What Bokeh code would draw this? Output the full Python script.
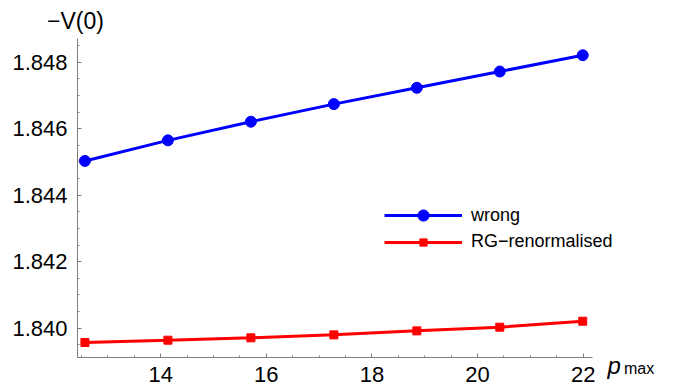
from bokeh.plotting import figure
from bokeh.models import (Range1d, FixedTicker, PrintfTickFormatter, Legend, LegendItem,
                          Label, ColumnDataSource)
from bokeh.embed import file_html
from bokeh.resources import INLINE

# data
p_max = [12.566, 14.137, 15.708, 17.279, 18.850, 20.420, 21.991]
wrong = [1.84503, 1.84565, 1.84621, 1.84674, 1.84723, 1.84772, 1.84821]
rg_renorm = [1.83957, 1.83964, 1.83971, 1.83980, 1.83992, 1.84003, 1.84021]

x_ticks = [14, 16, 18, 20, 22]
x_minor = [12.5 + 0.5 * i for i in range(20)]
y_ticks = [1.840, 1.842, 1.844, 1.846, 1.848]
y_minor = [1.8395 + 0.0005 * i for i in range(19)]

FONT = "Liberation Sans"
AX = "#7f7f7f"

# axis extents (data) and the whole-canvas frame around them
X0, X1 = 12.425, 22.17
Y0, Y1 = 1.839134, 1.848713
W, H = 684, 391
L, R, T, B = 77, 591.7, 38, 356.5
sx = (R - L) / (X1 - X0)
sy = (B - T) / (Y1 - Y0)
xs, xe = X0 - L / sx, X0 + (W - L) / sx
ye, ys = Y1 + T / sy, Y1 - (H - T) / sy


def dx(px):
    return xs + px / sx


def dy(py):
    return ye - py / sy


p = figure(width=W, height=H, output_backend="svg", toolbar_location=None,
           x_range=Range1d(xs, xe), y_range=Range1d(ys, ye),
           min_border=0, min_border_left=0, min_border_right=0,
           min_border_top=0, min_border_bottom=0)
p.outline_line_color = None
p.grid.visible = False
p.background_fill_color = "white"
p.border_fill_color = "white"

src = ColumnDataSource(dict(x=p_max, w=wrong, r=rg_renorm))
bl = p.line("x", "w", source=src, line_color="#0000ff", line_width=3)
bs = p.scatter("x", "w", source=src, marker="circle", size=11, fill_color="#0000ff", line_color="#0000ff")
rl = p.line("x", "r", source=src, line_color="#ff0000", line_width=3)
rs = p.scatter("x", "r", source=src, marker="square", size=8, fill_color="#ff0000", line_color="#ff0000")

for ax in (p.xaxis[0], p.yaxis[0]):
    ax.axis_line_color = AX
    ax.major_tick_line_color = AX
    ax.minor_tick_line_color = AX
    ax.major_tick_in = 4
    ax.major_tick_out = 0
    ax.minor_tick_in = 2
    ax.minor_tick_out = 0
    ax.major_label_text_font = FONT
    ax.major_label_text_font_size = "22px"
    ax.major_label_text_color = "black"
    ax.major_label_standoff = 10

p.xaxis[0].ticker = FixedTicker(ticks=x_ticks, minor_ticks=x_minor)
p.yaxis[0].ticker = FixedTicker(ticks=y_ticks, minor_ticks=y_minor)
p.yaxis[0].formatter = PrintfTickFormatter(format="%.3f")
p.xaxis[0].fixed_location = Y0
p.yaxis[0].fixed_location = X0
p.xaxis[0].bounds = (X0, X1)
p.yaxis[0].bounds = (Y0, Y1)

leg1 = Legend(items=[LegendItem(label="wrong", renderers=[bl, bs])],
              location=(384, 162), glyph_width=78, glyph_height=28, label_height=28,
              label_standoff=9, padding=0, margin=0, spacing=0,
              border_line_alpha=0, background_fill_alpha=0,
              label_text_font=FONT, label_text_font_size="18px", label_text_color="black")
leg2 = Legend(items=[LegendItem(label="RG\u2212renormalised", renderers=[rl, rs])],
              location=(384, 139), glyph_width=78, glyph_height=18, label_height=18,
              label_standoff=9, padding=0, margin=0, spacing=0,
              border_line_alpha=0, background_fill_alpha=0,
              label_text_font=FONT, label_text_font_size="18px", label_text_color="black")
p.add_layout(leg1)
p.add_layout(leg2)

p.add_layout(Label(x=dx(46.5), y=dy(20.5), text="\u2212V(0)", text_color="black",
                   text_font=FONT, text_font_size="23px", text_baseline="alphabetic"))
p.add_layout(Label(x=dx(607), y=dy(365.2), text="p", text_color="black",
                   text_font=FONT, text_font_style="italic", text_font_size="24px",
                   text_baseline="alphabetic"))
p.add_layout(Label(x=dx(623.5), y=dy(368.3), text="max", text_color="black",
                   text_font=FONT, text_font_size="16px", text_baseline="alphabetic"))

open("out.html", "w").write(file_html(p, INLINE))
